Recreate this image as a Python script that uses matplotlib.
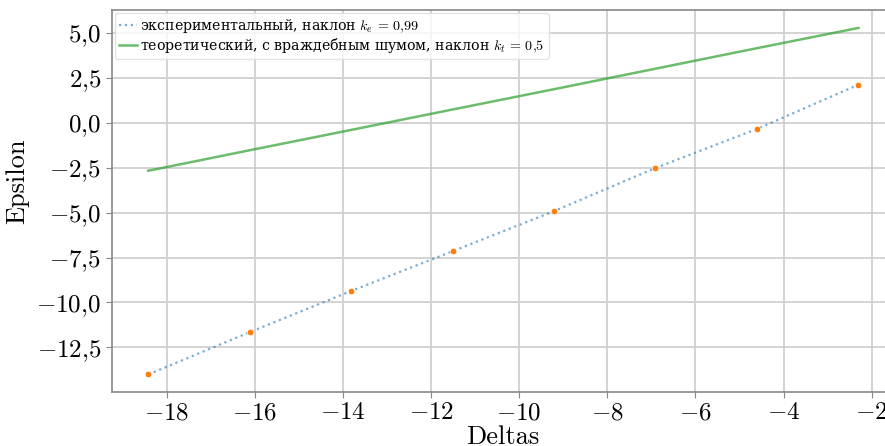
import matplotlib
matplotlib.use("Agg")
import matplotlib.pyplot as plt
from matplotlib.ticker import FuncFormatter, MultipleLocator

plt.rcParams["mathtext.fontset"] = "cm"
plt.rcParams["font.family"] = ["cmr10"]
plt.rcParams["axes.formatter.use_mathtext"] = True

# ln of the step sizes 1e-8 ... 1e-1
deltas = [-18.42, -16.12, -13.82, -11.51, -9.21, -6.91, -4.61, -2.30]
eps_exp = [-14.01, -11.66, -9.37, -7.15, -4.92, -2.52, -0.35, 2.12]
eps_theory = [-2.67, -1.53, -0.40, 0.74, 1.87, 3.01, 4.15, 5.28]

label_exp = "экспериментальный, наклон $k_e\\,=\\,0{,}99$"
label_theory = "теоретический, с враждебным шумом, наклон $k_t\\,=\\,0{,}5$"


def comma_fmt(decimals):
    def f(v, pos):
        s = f"{v:.{decimals}f}".replace("-", "\u2212").replace(".", "{,}")
        return f"${s}$"
    return FuncFormatter(f)


fig = plt.figure(figsize=(8.85, 4.46), dpi=100)
ax = fig.add_axes([0.1262, 0.1218, 0.8836, 0.8558])

ax.plot(deltas, eps_exp, linestyle=":", color="#1f77b4", alpha=0.6, lw=1.6,
        label=label_exp, zorder=3)
ax.plot(deltas, eps_theory, linestyle="-", color="#2ca02c", alpha=0.7, lw=1.8,
        label=label_theory, zorder=3)
ax.scatter(deltas, eps_exp, s=22, color="#ff7f0e", edgecolor="white",
           linewidth=0.5, zorder=4)

ax.set_xlim(-19.25, -1.50)
ax.set_ylim(-14.97, 6.28)
ax.xaxis.set_major_locator(MultipleLocator(2))
ax.yaxis.set_major_locator(MultipleLocator(2.5))
ax.xaxis.set_major_formatter(comma_fmt(0))
ax.yaxis.set_major_formatter(comma_fmt(1))

ax.grid(True, color="#cccccc", lw=1.2)
ax.set_axisbelow(True)
for side in ["left", "bottom", "top", "right"]:
    ax.spines[side].set_color("#888888")
    ax.spines[side].set_linewidth(1.2)
ax.tick_params(colors="#888888", labelcolor="black", labelsize=18, length=4)

ax.set_xlabel("Deltas", fontsize=19, labelpad=1)
ax.set_ylabel("Epsilon", fontsize=19, labelpad=5)
ax.yaxis.set_label_coords(-0.105, 0.55)

ax.legend(loc="upper left", handlelength=1.3, handletextpad=0.2,
          labelspacing=0.05, borderpad=0.3, borderaxespad=0.2, framealpha=0.8,
          edgecolor="#dddddd",
          prop={"family": "DejaVu Serif", "size": 10.2})

fig.savefig("out.png", dpi=100)
